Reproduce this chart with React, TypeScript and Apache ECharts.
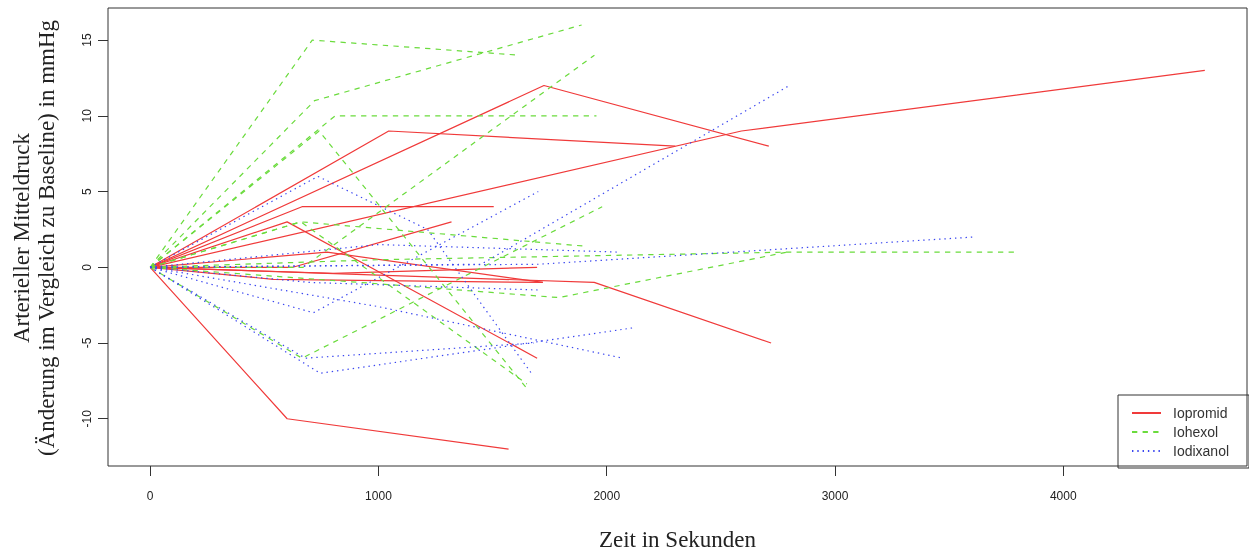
import React, { useEffect, useRef } from "react";
import * as echarts from "echarts";

// ---- data (time in s, change of mean arterial pressure in mmHg) ----
const iopromid: number[][][] = [
  [[0, 0], [600, -10], [1570, -12]],
  [[0, 0], [1725, 12], [2710, 8]],
  [[0, 0], [1045, 9], [2300, 8]],
  [[0, 0], [2590, 9], [4620, 13]],
  [[0, 0], [665, 4], [1505, 4]],
  [[0, 0], [600, 3], [1695, -6]],
  [[0, 0], [625, 0], [1320, 3]],
  [[0, 0], [775, 1], [1720, -1]],
  [[0, 0], [1945, -1], [2720, -5]],
  [[0, 0], [800, -0.4], [1695, 0]],
  [[0, 0], [540, -0.8], [1720, -1]],
];
const iohexol: number[][][] = [
  [[0, 0], [710, 15], [1620, 14]],
  [[0, 0], [720, 11], [1890, 16]],
  [[0, 0], [810, 10], [1955, 10]],
  [[0, 0], [740, 9], [1650, -8]],
  [[0, 0], [670, 0], [1946, 14]],
  [[0, 0], [660, 3], [1900, 1.4]],
  [[0, 0], [920, -1], [1790, -2], [2790, 1]],
  [[0, 0], [665, -6], [1980, 4]],
  [[0, 0], [1000, 0.5], [2790, 1], [3790, 1]],
  [[0, 0], [660, 3], [1650, -7.7]],
];
const iodixanol: number[][][] = [
  [[0, 0], [735, 6], [1215, 2.5], [1670, -7]],
  [[0, 0], [680, -6], [1680, -5]],
  [[0, 0], [745, -7], [2115, -4]],
  [[0, 0], [715, -3], [1700, 5]],
  [[0, 0], [1450, 0.2], [2800, 12]],
  [[0, 0], [1700, 0.2], [3610, 2]],
  [[0, 0], [1000, 1.5], [2060, 1]],
  [[0, 0], [1000, -2.6], [2070, -6]],
  [[0, 0], [700, -1], [1700, -1.5]],
];
const groupNames = ["Iopromid", "Iohexol", "Iodixanol"];
const xTicks = [0, 1000, 2000, 3000, 4000];
const yTicks = [-10, -5, 0, 5, 10, 15];

const groupColors = ["#F03A3A", "#6ADB3C", "#3A46F0"];
const groupDash: any[] = ["solid", [5.3, 5.3], [1.4, 3.9]];

export default function App() {
  const ref = useRef<HTMLDivElement>(null);
  useEffect(() => {
    if (!ref.current) return;
    const chart = echarts.init(ref.current, undefined, { renderer: "svg" });
    const groups = [iopromid, iohexol, iodixanol];
    const series: any[] = [];
    groups.forEach((g, gi) => {
      g.forEach((pts) => {
        series.push({
          type: "line",
          name: groupNames[gi],
          data: pts,
          symbol: "none",
          silent: true,
          lineStyle: { color: groupColors[gi], width: 1.2, type: groupDash[gi] },
          itemStyle: { color: groupColors[gi] },
        });
      });
    });
    const tickFont = { fontFamily: "Liberation Sans, Arial, sans-serif", fontSize: 12, color: "#222" };
    chart.setOption({
      animation: false,
      grid: {
        left: 108, right: 2, top: 8, bottom: 88,
        show: true, borderColor: "#333", borderWidth: 1, backgroundColor: "transparent",
      },
      xAxis: {
        type: "value",
        min: -184.8,
        max: 4804.8,
        splitLine: { show: false },
        axisLine: { show: false, onZero: false },
        axisTick: { show: true, length: 10, inside: false, customValues: xTicks, lineStyle: { color: "#333" } },
        axisLabel: { ...tickFont, margin: 24, customValues: xTicks, formatter: (v: number) => String(v) },
        name: "Zeit in Sekunden",
        nameLocation: "middle",
        nameGap: 62,
        nameTextStyle: { fontFamily: "Liberation Serif, Times New Roman, serif", fontSize: 23, color: "#222" },
      },
      yAxis: {
        type: "value",
        min: -13.12,
        max: 17.12,
        splitLine: { show: false },
        axisLine: { show: false, onZero: false },
        axisTick: { show: true, length: 10, inside: false, customValues: yTicks, lineStyle: { color: "#333" } },
        axisLabel: { ...tickFont, margin: 15, rotate: 90, customValues: yTicks, formatter: (v: number) => String(v) },
      },
      legend: {
        data: groupNames,
        orient: "vertical",
        left: 1131,
        top: 406,
        itemWidth: 29,
        itemHeight: 15,
        itemGap: 5,
        padding: 0,
        selectedMode: false,
        itemStyle: { opacity: 0 },
        textStyle: { fontFamily: "Liberation Sans, Arial, sans-serif", fontSize: 14, color: "#333", padding: [0, 0, 0, 7] },
      },
      graphic: [
        {
          type: "rect",
          shape: { x: 1118, y: 395, width: 131, height: 73 },
          style: { fill: "transparent", stroke: "#333", lineWidth: 1 },
          silent: true,
        },
        {
          type: "text",
          x: 34,
          y: 238,
          rotation: Math.PI / 2,
          style: {
            text: "Arterieller Mitteldruck\n(Änderung im Vergleich zu Baseline) in mmHg",
            font: "23px 'Liberation Serif', 'Times New Roman', serif",
            fill: "#222",
            align: "center",
            verticalAlign: "middle",
            lineHeight: 25,
          },
        },
      ],
      series,
    });
    return () => chart.dispose();
  }, []);
  return <div ref={ref} style={{ position: "fixed", left: 0, top: 0, width: 1249, height: 556 }} />;
}
